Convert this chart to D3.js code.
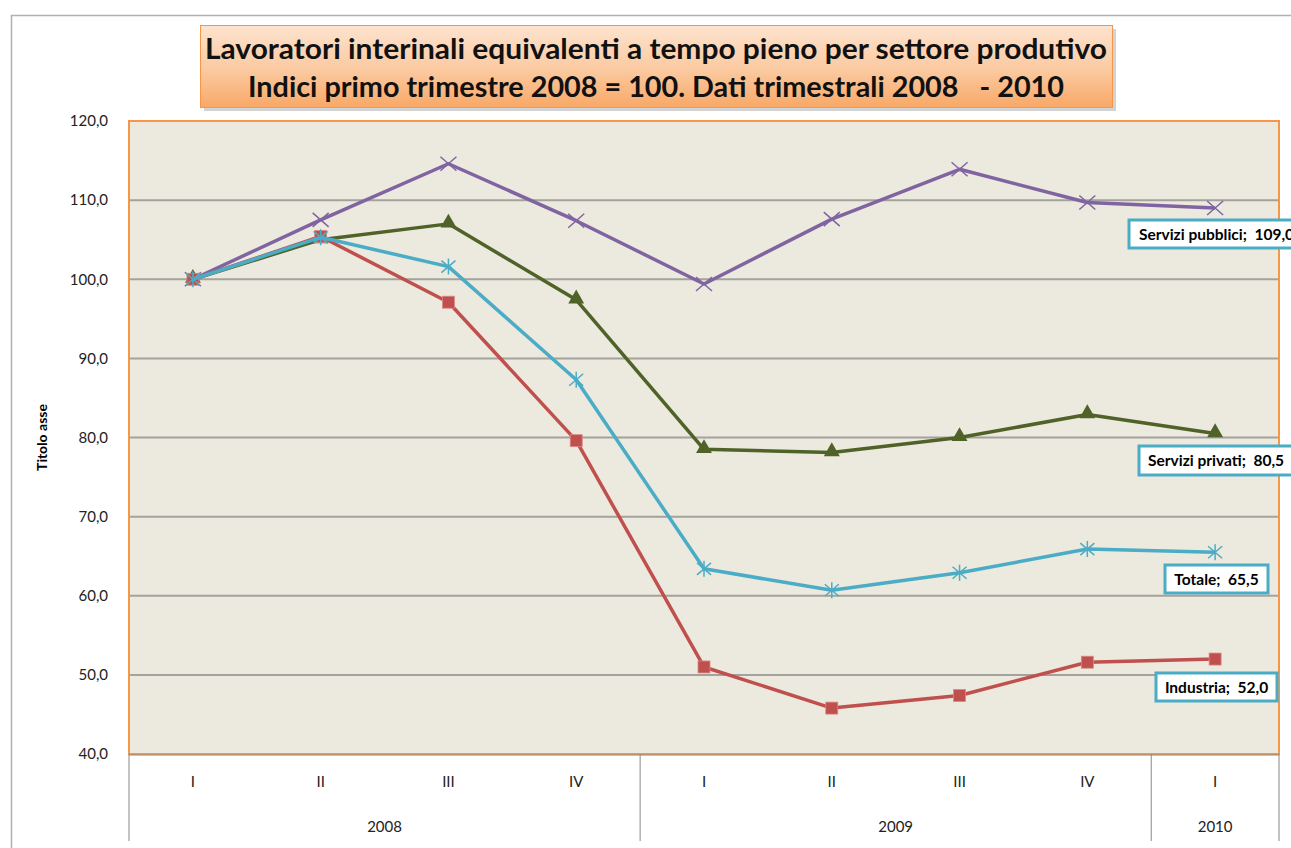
<!DOCTYPE html>
<html>
<head>
<meta charset="utf-8">
<script src="https://cdn.jsdelivr.net/npm/d3@7"></script>
<style>
  body { margin: 0; background: #fff; }
  svg { display: block; font-family: "Lato", "Open Sans", sans-serif; }
</style>
</head>
<body>
<svg id="chart"></svg>
<script>
// data
const quarters = ["I", "II", "III", "IV", "I", "II", "III", "IV", "I"];
const years = [
    { label: "2008", start: 0, end: 4 },
    { label: "2009", start: 4, end: 8 },
    { label: "2010", start: 8, end: 9 }
];
const pubblici = [100, 107.5, 114.6, 107.4, 99.4, 107.6, 113.9, 109.7, 109.0];
const privati = [100, 105.0, 107.0, 97.4, 78.5, 78.1, 80.0, 82.9, 80.5];
const industria = [100, 105.4, 97.1, 79.6, 51.0, 45.8, 47.4, 51.6, 52.0];
const totale = [100, 105.3, 101.6, 87.3, 63.4, 60.7, 62.9, 65.9, 65.5];
const yTicks = [40, 50, 60, 70, 80, 90, 100, 110, 120];
const titleLines = [
    "Lavoratori interinali equivalenti a tempo pieno per settore produtivo",
    "Indici primo trimestre 2008 = 100. Dati trimestrali 2008   - 2010"
];

const series = [
    { name: "Servizi pubblici", values: pubblici, color: "#8064A2", marker: "x" },
    { name: "Servizi privati", values: privati, color: "#4F6228", marker: "triangle" },
    { name: "Industria", values: industria, color: "#C0504D", marker: "square" },
    { name: "Totale", values: totale, color: "#4BACC6", marker: "asterisk" }
];

const width = 1291, height = 848;
const plot = { left: 129, right: 1279, top: 121, bottom: 754 };

const svg = d3.select("#chart").attr("width", width).attr("height", height);
const fmt = v => d3.format(".1f")(v).replace(".", ",");

// outer chart frame
svg.append("path")
    .attr("d", `M11.5,${height} V15.5 H${width}`)
    .attr("fill", "none")
    .attr("stroke", "#b0b0b0")
    .attr("stroke-width", 1.5);

const x = d3.scaleBand().domain(d3.range(quarters.length)).range([plot.left, plot.right]);
const cx = i => x(i) + x.bandwidth() / 2;
const y = d3.scaleLinear().domain([40, 120]).range([plot.bottom, plot.top]);

// plot area
svg.append("rect")
    .attr("x", plot.left).attr("y", plot.top)
    .attr("width", plot.right - plot.left).attr("height", plot.bottom - plot.top)
    .attr("fill", "#ECE9DF");

// gridlines
svg.append("g")
    .selectAll("line")
    .data(yTicks.filter(d => d > 40 && d < 120))
    .join("line")
    .attr("x1", plot.left).attr("x2", plot.right)
    .attr("y1", d => y(d)).attr("y2", d => y(d))
    .attr("stroke", "#A3A29D").attr("stroke-width", 2);

svg.append("rect")
    .attr("x", plot.left).attr("y", plot.top)
    .attr("width", plot.right - plot.left).attr("height", plot.bottom - plot.top)
    .attr("fill", "none")
    .attr("stroke", "#F79646").attr("stroke-width", 2);

// y axis
const yAxis = svg.append("g")
    .attr("transform", `translate(${plot.left},0)`)
    .call(d3.axisLeft(y).tickValues(yTicks).tickFormat(fmt).tickSize(0).tickPadding(21));
yAxis.select(".domain").remove();
yAxis.selectAll("text").attr("font-size", 15).attr("fill", "#222").attr("font-family", "Lato, sans-serif");

svg.append("text")
    .attr("transform", `translate(47,${(plot.top + plot.bottom) / 2}) rotate(-90)`)
    .attr("text-anchor", "middle")
    .attr("font-size", 14).attr("font-weight", "bold")
    .text("Titolo asse");

// x axis: quarters
svg.append("line")
    .attr("x1", plot.left).attr("x2", plot.right)
    .attr("y1", plot.bottom + 1).attr("y2", plot.bottom + 1)
    .attr("stroke", "#888").attr("stroke-width", 1);

const xAxis = svg.append("g")
    .attr("transform", `translate(0,${plot.bottom})`)
    .call(d3.axisBottom(x).tickFormat(i => quarters[i]).tickSize(0).tickPadding(22));
xAxis.select(".domain").remove();
xAxis.selectAll("text").attr("font-size", 15).attr("fill", "#222").attr("font-family", "Lato, sans-serif");

// x axis: years
const yearBounds = [0].concat(years.map(d => d.end));
svg.append("g")
    .selectAll("line")
    .data(yearBounds)
    .join("line")
    .attr("x1", d => d < quarters.length ? x(d) : plot.right)
    .attr("x2", d => d < quarters.length ? x(d) : plot.right)
    .attr("y1", plot.bottom).attr("y2", 841)
    .attr("stroke", "#888").attr("stroke-width", 1);

svg.append("g")
    .selectAll("text")
    .data(years)
    .join("text")
    .attr("x", d => (x(d.start) + (d.end < quarters.length ? x(d.end) : plot.right)) / 2)
    .attr("y", 832)
    .attr("text-anchor", "middle")
    .attr("font-size", 15).attr("fill", "#222")
    .text(d => d.label);

// lines and markers
const line = d3.line().x((d, i) => cx(i)).y(d => y(d));

function drawMarker(g, type, color) {
    if (type === "x") {
        g.append("path").attr("d", "M-8,-7L8,7M-8,7L8,-7")
            .attr("stroke", color).attr("stroke-width", 1.5).attr("fill", "none");
    } else if (type === "asterisk") {
        g.append("path").attr("d", "M-7,-6L7,6M-7,6L7,-6M0,-8L0,8")
            .attr("stroke", color).attr("stroke-width", 1.5).attr("fill", "none");
    } else if (type === "triangle") {
        g.append("path").attr("d", d3.symbol(d3.symbolTriangle, 110)())
            .attr("transform", "translate(0,-1)")
            .attr("fill", color);
    } else if (type === "square") {
        g.append("rect").attr("x", -6).attr("y", -6).attr("width", 12).attr("height", 12)
            .attr("fill", color).attr("stroke", "#d98a88").attr("stroke-width", 0.8);
    }
}

for (const s of series) {
    const g = svg.append("g");
    g.append("path")
        .datum(s.values)
        .attr("d", line)
        .attr("fill", "none")
        .attr("stroke", s.color)
        .attr("stroke-width", 3.5)
        .attr("stroke-linejoin", "round");
    g.selectAll("g.mark")
        .data(s.values)
        .join("g")
        .attr("class", "mark")
        .attr("transform", (d, i) => `translate(${cx(i)},${y(d)})`)
        .each(function () { drawMarker(d3.select(this), s.marker, s.color); });
}

// data labels on the last point
const labelPos = [
    { name: "Servizi pubblici", x: 1129, y: 220, w: 175, h: 28 },
    { name: "Servizi privati", x: 1139, y: 446, w: 154, h: 29 },
    { name: "Totale", x: 1165, y: 565, w: 103, h: 28 },
    { name: "Industria", x: 1156, y: 673, w: 121, h: 28 }
];
const last = quarters.length - 1;
for (const lp of labelPos) {
    const s = series.find(d => d.name === lp.name);
    const g = svg.append("g").attr("transform", `translate(${lp.x},${lp.y})`);
    g.append("rect")
        .attr("width", lp.w).attr("height", lp.h)
        .attr("fill", "#fff")
        .attr("stroke", "#4BACC6").attr("stroke-width", 3);
    g.append("text")
        .attr("x", lp.w / 2).attr("y", lp.h / 2 + 5.5)
        .attr("text-anchor", "middle")
        .attr("font-size", 15.5).attr("font-weight", "bold")
        .attr("xml:space", "preserve")
        .style("white-space", "pre")
        .text(`${s.name};  ${fmt(s.values[last])}`);
}

// title box
const defs = svg.append("defs");
const grad = defs.append("linearGradient").attr("id", "titleGrad")
    .attr("x1", 0).attr("y1", 0).attr("x2", 0).attr("y2", 1);
grad.append("stop").attr("offset", "0%").attr("stop-color", "#FDE3CF");
grad.append("stop").attr("offset", "55%").attr("stop-color", "#FBC9A0");
grad.append("stop").attr("offset", "100%").attr("stop-color", "#F8A866");

svg.append("rect")
    .attr("x", 204).attr("y", 29).attr("width", 912).attr("height", 82)
    .attr("fill", "#c8c8c8").attr("opacity", 0.8);
svg.append("rect")
    .attr("x", 200.5).attr("y", 25.5).attr("width", 912).attr("height", 82)
    .attr("fill", "url(#titleGrad)")
    .attr("stroke", "#F79646").attr("stroke-width", 1);

const titleWidths = [902, 816];
svg.append("g")
    .selectAll("text")
    .data(titleLines)
    .join("text")
    .attr("x", 656)
    .attr("y", (d, i) => 59 + i * 38)
    .attr("text-anchor", "middle")
    .attr("font-size", 28).attr("font-weight", "bold")
    .attr("fill", "#111")
    .attr("xml:space", "preserve")
    .style("white-space", "pre")
    .attr("textLength", (d, i) => titleWidths[i])
    .attr("lengthAdjust", "spacingAndGlyphs")
    .text(d => d);
</script>
</body>
</html>
